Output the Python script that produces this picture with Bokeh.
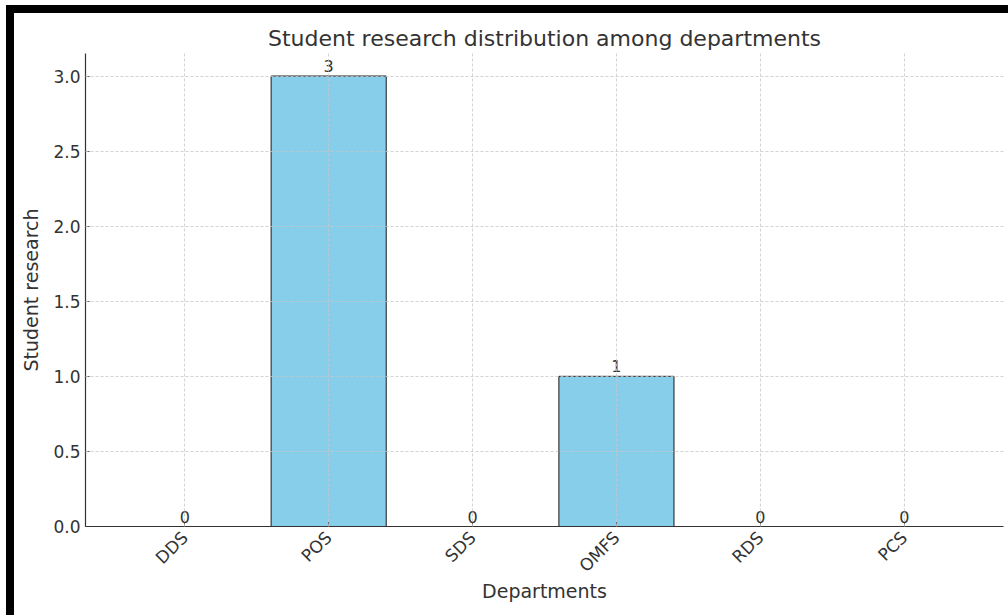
from bokeh.plotting import figure
from bokeh.models import ColumnDataSource, FactorRange, Range1d, Div, FixedTicker, NumeralTickFormatter
from bokeh.layouts import column, row
from bokeh.core.properties import value
from bokeh.embed import file_html
from bokeh.resources import INLINE
import math

departments = ["DDS", "POS", "SDS", "OMFS", "RDS", "PCS"]
student_research = [0, 3, 0, 1, 0, 0]
y_ticks = [0.0, 0.5, 1.0, 1.5, 2.0, 2.5, 3.0]

FONT = "DejaVu Sans"
TXT = "#333333"

src = ColumnDataSource(dict(
    dept=departments,
    val=student_research,
    lbl=[str(v) for v in student_research],
))

p = figure(
    width=994, height=602,
    x_range=FactorRange(factors=departments, range_padding=0.19, range_padding_units="absolute"),
    y_range=Range1d(0, 3.15),
    output_backend="svg", toolbar_location=None,
    title="Student research distribution among departments",
    min_border_left=71, min_border_right=5, min_border_top=40, min_border_bottom=89,
)
p.outline_line_color = None
p.background_fill_color = "white"
p.border_fill_color = "white"

p.title.text_font = FONT
p.title.text_font_size = "22px"
p.title.text_font_style = "normal"
p.title.text_color = TXT
p.title.align = "center"
p.title.standoff = 5

p.vbar(x="dept", top="val", width=0.8, source=src,
       fill_color="#87CEEB", line_color="#1a1a1a", line_width=1)

p.text(x="dept", y="val", text="lbl", source=src,
       text_font=value(FONT), text_font_size="16px", text_color=TXT,
       text_align="center", text_baseline="bottom", y_offset=-4)

for ax in (p.xaxis[0], p.yaxis[0]):
    ax.axis_line_color = "#333333"
    ax.axis_line_width = 1.2
    ax.major_tick_line_color = "#333333"
    ax.major_tick_in = 4
    ax.major_tick_out = 0
    ax.minor_tick_line_color = None
    ax.major_label_text_font = FONT
    ax.major_label_text_font_size = "17px"
    ax.major_label_text_color = TXT
    ax.axis_label_text_font = FONT
    ax.axis_label_text_font_size = "19px"
    ax.axis_label_text_font_style = "normal"
    ax.axis_label_text_color = TXT

p.xaxis.axis_label = "Departments"
p.xaxis.major_label_orientation = math.pi / 4
p.xaxis.major_label_standoff = 8
p.xaxis.axis_label_standoff = -6

p.yaxis.axis_label = "Student research"
p.yaxis.ticker = FixedTicker(ticks=y_ticks)
p.yaxis.formatter = NumeralTickFormatter(format="0.0")
p.yaxis.major_label_standoff = 5
p.yaxis.axis_label_standoff = 8

for g in (p.xgrid[0], p.ygrid[0]):
    g.grid_line_color = "#c8c8c8"
    g.grid_line_dash = "3 2"
    g.grid_line_width = 0.8
    g.level = "guide"
p.ygrid.ticker = FixedTicker(ticks=y_ticks)

top_white = Div(width=1008, height=5, styles={"background-color": "white"}, margin=0)
top_black = Div(width=1002, height=8, styles={"background-color": "black"}, margin=0)
left_white = Div(width=6, height=610, styles={"background-color": "white"}, margin=0)
left_black = Div(width=8, height=602, styles={"background-color": "black"}, margin=0)
layout = column(
    top_white,
    row(left_white, column(top_black, row(left_black, p, spacing=0), spacing=0), spacing=0),
    spacing=0,
)

open("out.html", "w").write(file_html(layout, INLINE))
